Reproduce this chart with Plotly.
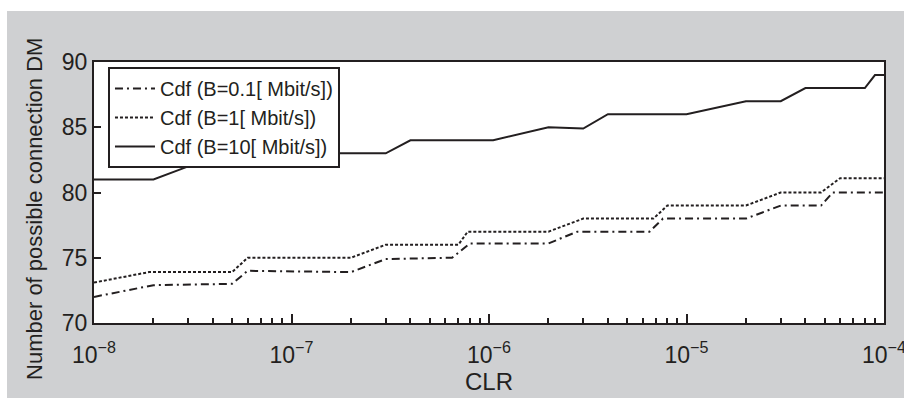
import plotly.graph_objects as go

# ---- data ----
x_b01 = [1e-8, 2e-8, 5e-8, 6e-8, 2e-7, 3e-7, 6.5e-7, 8e-7, 2e-6, 2.8e-6, 6.5e-6, 7.6e-6, 2e-5, 3e-5, 4.8e-5, 5.5e-5, 1e-4]
y_b01 = [72.0, 72.9, 73.0, 74.0, 73.9, 74.9, 75.0, 76.1, 76.1, 77.0, 77.0, 78.0, 78.0, 79.0, 79.0, 80.0, 80.0]

x_b1 = [1e-8, 1.9e-8, 5e-8, 6e-8, 2e-7, 3e-7, 7e-7, 7.8e-7, 2e-6, 3e-6, 6.8e-6, 8e-6, 2e-5, 3e-5, 4.8e-5, 6e-5, 1e-4]
y_b1 = [73.1, 73.9, 73.9, 75.0, 75.0, 76.0, 76.0, 77.0, 77.0, 78.0, 78.0, 79.0, 79.0, 80.0, 80.0, 81.1, 81.1]

x_b10 = [1e-8, 2e-8, 3e-8, 9e-8, 1e-7, 3e-7, 4e-7, 1.05e-6, 2e-6, 3e-6, 4e-6, 1e-5, 2e-5, 3e-5, 4e-5, 8e-5, 9e-5, 1e-4]
y_b10 = [81.0, 81.0, 82.0, 82.0, 83.0, 83.0, 84.0, 84.0, 85.0, 84.9, 86.0, 86.0, 87.0, 87.0, 88.0, 88.0, 89.0, 89.0]

series_names = ["Cdf (B=0.1[ Mbit/s])", "Cdf (B=1[ Mbit/s])", "Cdf (B=10[ Mbit/s])"]

x_major = [1e-8, 1e-7, 1e-6, 1e-5, 1e-4]
x_major_text = ["10<sup>−8</sup>", "10<sup>−7</sup>", "10<sup>−6</sup>", "10<sup>−5</sup>", "10<sup>−4</sup>"]
x_minor = [m * d for d in (1e-8, 1e-7, 1e-6, 1e-5) for m in range(2, 10)]
y_ticks = [70, 75, 80, 85, 90]

INK = "#231f20"
GRAY = "#cfd0d2"
FONT = "Liberation Sans, Arial, sans-serif"

fig = go.Figure()
fig.add_trace(go.Scatter(x=x_b01, y=y_b01, mode="lines", name=series_names[0],
                         line=dict(color=INK, width=2, dash="8px,4px,2px,4px")))
fig.add_trace(go.Scatter(x=x_b1, y=y_b1, mode="lines", name=series_names[1],
                         line=dict(color=INK, width=2, dash="3px,2px")))
fig.add_trace(go.Scatter(x=x_b10, y=y_b10, mode="lines", name=series_names[2],
                         line=dict(color=INK, width=2)))

fig.update_layout(
    width=904, height=400,
    margin=dict(l=94, r=20, t=62, b=77, autoexpand=False),
    paper_bgcolor=GRAY, plot_bgcolor="white",
    font=dict(family=FONT, color=INK, size=23),
    showlegend=True,
    legend=dict(x=0.0177, y=0.981, xanchor="left", yanchor="top",
                bgcolor="white", bordercolor=INK, borderwidth=2,
                font=dict(size=20, color=INK), tracegroupgap=0, itemwidth=40),
    xaxis=dict(type="log", range=[-8, -4], showline=True, linecolor=INK, linewidth=2,
               mirror=True, showgrid=False, zeroline=False, automargin=False,
               tickmode="array", tickvals=x_major, ticktext=x_major_text,
               ticks="inside", ticklen=9, tickwidth=1.5, tickcolor=INK,
               tickfont=dict(size=23), ticklabelstandoff=10, ticklabeloverflow="allow",
               minor=dict(tickmode="array", tickvals=x_minor, ticks="inside",
                          ticklen=5, tickwidth=1.5, tickcolor=INK, showgrid=False),
               title=dict(text="CLR", font=dict(size=24), standoff=2)),
    yaxis=dict(range=[70, 90], showline=True, linecolor=INK, linewidth=2,
               mirror=True, showgrid=False, zeroline=False, automargin=False,
               tickmode="array", tickvals=y_ticks,
               ticks="inside", ticklen=7, tickwidth=1.5, tickcolor=INK,
               tickfont=dict(size=23)),
    annotations=[dict(text="Number of possible connection DM", xref="paper", yref="paper",
                      x=-0.0747, y=0.4368, xanchor="center", yanchor="middle",
                      textangle=-90, showarrow=False, font=dict(size=22, color=INK))],
    shapes=[
        dict(type="rect", xref="paper", yref="paper", x0=-0.2, x1=1.2, y0=1.1954, y1=1.4,
             fillcolor="white", line=dict(width=0), layer="below"),
        dict(type="rect", xref="paper", yref="paper", x0=-0.2, x1=-0.1101, y0=-0.5, y1=1.4,
             fillcolor="white", line=dict(width=0), layer="below"),
        dict(type="rect", xref="paper", yref="paper", x0=-0.2, x1=1.2, y0=-0.5, y1=-0.2874,
             fillcolor="white", line=dict(width=0), layer="below"),
    ],
)

fig.write_html("out.html")
